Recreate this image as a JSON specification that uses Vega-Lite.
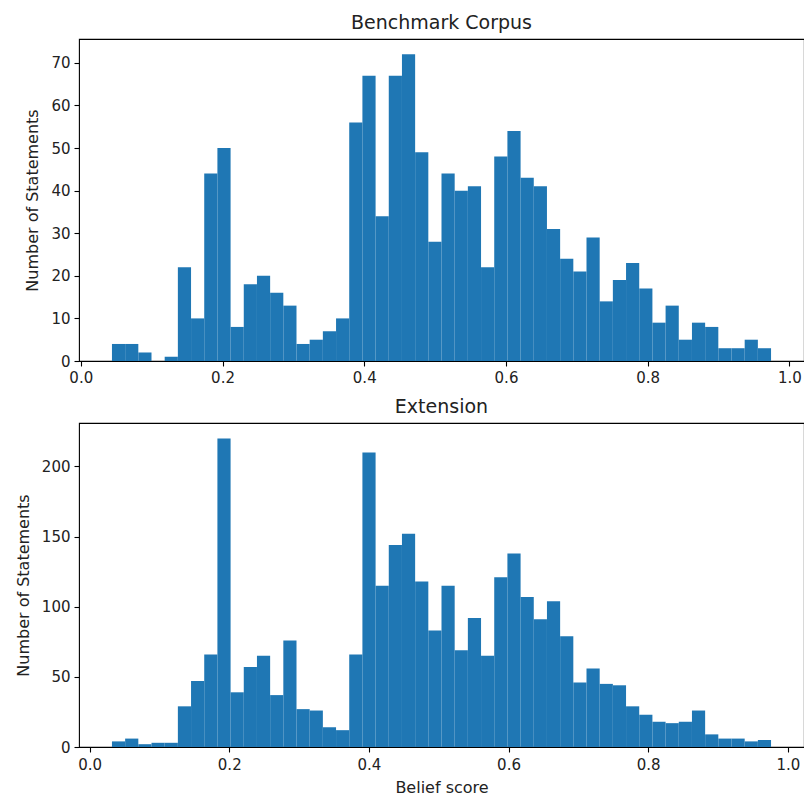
{
  "$schema": "https://vega.github.io/schema/vega-lite/v6.json",
  "padding": {"left": 14, "top": 13, "right": 1, "bottom": 0},
  "spacing": 11,
  "config": {
    "font": "DejaVu Sans",
    "view": {"stroke": "#000", "strokeWidth": 1.1},
    "axis": {
      "domain": false, "grid": false,
      "tickColor": "#000", "tickWidth": 1.1, "tickSize": 5,
      "labelFont": "DejaVu Sans", "labelFontSize": 15, "labelColor": "#222", "labelPadding": 4,
      "titleFont": "DejaVu Sans", "titleFontSize": 16, "titleFontWeight": "normal", "titleColor": "#222"
    },
    "title": {"font": "DejaVu Sans", "fontSize": 19, "fontWeight": "normal", "color": "#222", "anchor": "middle", "offset": 6}
  },
  "datasets": {
    "benchmark": [
      {"lo": 0.044, "hi": 0.0626, "n": 4}, {"lo": 0.0626, "hi": 0.0812, "n": 4}, {"lo": 0.0812, "hi": 0.0998, "n": 2},
      {"lo": 0.0998, "hi": 0.1184, "n": 0}, {"lo": 0.1184, "hi": 0.137, "n": 1}, {"lo": 0.137, "hi": 0.1556, "n": 22},
      {"lo": 0.1556, "hi": 0.1742, "n": 10}, {"lo": 0.1742, "hi": 0.1928, "n": 44}, {"lo": 0.1928, "hi": 0.2114, "n": 50},
      {"lo": 0.2114, "hi": 0.23, "n": 8}, {"lo": 0.23, "hi": 0.2486, "n": 18}, {"lo": 0.2486, "hi": 0.2672, "n": 20},
      {"lo": 0.2672, "hi": 0.2858, "n": 16}, {"lo": 0.2858, "hi": 0.3044, "n": 13}, {"lo": 0.3044, "hi": 0.323, "n": 4},
      {"lo": 0.323, "hi": 0.3416, "n": 5}, {"lo": 0.3416, "hi": 0.3602, "n": 7}, {"lo": 0.3602, "hi": 0.3788, "n": 10},
      {"lo": 0.3788, "hi": 0.3974, "n": 56}, {"lo": 0.3974, "hi": 0.416, "n": 67}, {"lo": 0.416, "hi": 0.4346, "n": 34},
      {"lo": 0.4346, "hi": 0.4532, "n": 67}, {"lo": 0.4532, "hi": 0.4718, "n": 72}, {"lo": 0.4718, "hi": 0.4904, "n": 49},
      {"lo": 0.4904, "hi": 0.509, "n": 28}, {"lo": 0.509, "hi": 0.5276, "n": 44}, {"lo": 0.5276, "hi": 0.5462, "n": 40},
      {"lo": 0.5462, "hi": 0.5648, "n": 41}, {"lo": 0.5648, "hi": 0.5834, "n": 22}, {"lo": 0.5834, "hi": 0.602, "n": 48},
      {"lo": 0.602, "hi": 0.6206, "n": 54}, {"lo": 0.6206, "hi": 0.6392, "n": 43}, {"lo": 0.6392, "hi": 0.6578, "n": 41},
      {"lo": 0.6578, "hi": 0.6764, "n": 31}, {"lo": 0.6764, "hi": 0.695, "n": 24}, {"lo": 0.695, "hi": 0.7136, "n": 21},
      {"lo": 0.7136, "hi": 0.7322, "n": 29}, {"lo": 0.7322, "hi": 0.7508, "n": 14}, {"lo": 0.7508, "hi": 0.7694, "n": 19},
      {"lo": 0.7694, "hi": 0.788, "n": 23}, {"lo": 0.788, "hi": 0.8066, "n": 17}, {"lo": 0.8066, "hi": 0.8252, "n": 9},
      {"lo": 0.8252, "hi": 0.8438, "n": 13}, {"lo": 0.8438, "hi": 0.8624, "n": 5}, {"lo": 0.8624, "hi": 0.881, "n": 9},
      {"lo": 0.881, "hi": 0.8996, "n": 8}, {"lo": 0.8996, "hi": 0.9182, "n": 3}, {"lo": 0.9182, "hi": 0.9368, "n": 3},
      {"lo": 0.9368, "hi": 0.9554, "n": 5}, {"lo": 0.9554, "hi": 0.974, "n": 3}
    ],
    "extension": [
      {"lo": 0.032, "hi": 0.05088, "n": 4}, {"lo": 0.05088, "hi": 0.06976, "n": 6}, {"lo": 0.06976, "hi": 0.08864, "n": 2},
      {"lo": 0.08864, "hi": 0.10752, "n": 3}, {"lo": 0.10752, "hi": 0.1264, "n": 3}, {"lo": 0.1264, "hi": 0.14528, "n": 29},
      {"lo": 0.14528, "hi": 0.16416, "n": 47}, {"lo": 0.16416, "hi": 0.18304, "n": 66}, {"lo": 0.18304, "hi": 0.20192, "n": 220},
      {"lo": 0.20192, "hi": 0.2208, "n": 39}, {"lo": 0.2208, "hi": 0.23968, "n": 57}, {"lo": 0.23968, "hi": 0.25856, "n": 65},
      {"lo": 0.25856, "hi": 0.27744, "n": 37}, {"lo": 0.27744, "hi": 0.29632, "n": 76}, {"lo": 0.29632, "hi": 0.3152, "n": 27},
      {"lo": 0.3152, "hi": 0.33408, "n": 26}, {"lo": 0.33408, "hi": 0.35296, "n": 14}, {"lo": 0.35296, "hi": 0.37184, "n": 12},
      {"lo": 0.37184, "hi": 0.39072, "n": 66}, {"lo": 0.39072, "hi": 0.4096, "n": 210}, {"lo": 0.4096, "hi": 0.42848, "n": 115},
      {"lo": 0.42848, "hi": 0.44736, "n": 144}, {"lo": 0.44736, "hi": 0.46624, "n": 152}, {"lo": 0.46624, "hi": 0.48512, "n": 118},
      {"lo": 0.48512, "hi": 0.504, "n": 83}, {"lo": 0.504, "hi": 0.52288, "n": 115}, {"lo": 0.52288, "hi": 0.54176, "n": 69},
      {"lo": 0.54176, "hi": 0.56064, "n": 92}, {"lo": 0.56064, "hi": 0.57952, "n": 65}, {"lo": 0.57952, "hi": 0.5984, "n": 121},
      {"lo": 0.5984, "hi": 0.61728, "n": 138}, {"lo": 0.61728, "hi": 0.63616, "n": 107}, {"lo": 0.63616, "hi": 0.65504, "n": 91},
      {"lo": 0.65504, "hi": 0.67392, "n": 104}, {"lo": 0.67392, "hi": 0.6928, "n": 79}, {"lo": 0.6928, "hi": 0.71168, "n": 46},
      {"lo": 0.71168, "hi": 0.73056, "n": 56}, {"lo": 0.73056, "hi": 0.74944, "n": 45}, {"lo": 0.74944, "hi": 0.76832, "n": 44},
      {"lo": 0.76832, "hi": 0.7872, "n": 29}, {"lo": 0.7872, "hi": 0.80608, "n": 23}, {"lo": 0.80608, "hi": 0.82496, "n": 18},
      {"lo": 0.82496, "hi": 0.84384, "n": 17}, {"lo": 0.84384, "hi": 0.86272, "n": 18}, {"lo": 0.86272, "hi": 0.8816, "n": 26},
      {"lo": 0.8816, "hi": 0.90048, "n": 9}, {"lo": 0.90048, "hi": 0.91936, "n": 6}, {"lo": 0.91936, "hi": 0.93824, "n": 6},
      {"lo": 0.93824, "hi": 0.95712, "n": 4}, {"lo": 0.95712, "hi": 0.976, "n": 5}
    ]
  },
  "vconcat": [
    {
      "title": {"text": "Benchmark Corpus"},
      "width": 725,
      "height": 322,
      "data": {"name": "benchmark"},
      "mark": {"type": "bar", "color": "#1f77b4", "strokeWidth": 0},
      "encoding": {
        "x": {"field": "lo", "type": "quantitative",
              "scale": {"domain": [-0.0025, 1.0205], "nice": false, "zero": false},
              "axis": {"values": [0, 0.2, 0.4, 0.6, 0.8, 1.0], "format": ".1f", "title": null}},
        "x2": {"field": "hi"},
        "y": {"field": "n", "type": "quantitative",
              "scale": {"domain": [0, 75.6], "nice": false},
              "axis": {"values": [0, 10, 20, 30, 40, 50, 60, 70], "title": "Number of Statements", "titlePadding": 10}},
        "y2": {"datum": 0}
      }
    },
    {
      "title": {"text": "Extension"},
      "width": 725,
      "height": 324,
      "data": {"name": "extension"},
      "mark": {"type": "bar", "color": "#1f77b4", "strokeWidth": 0},
      "encoding": {
        "x": {"field": "lo", "type": "quantitative",
              "scale": {"domain": [-0.0152, 1.0232], "nice": false, "zero": false},
              "axis": {"values": [0, 0.2, 0.4, 0.6, 0.8, 1.0], "format": ".1f", "title": "Belief score", "titlePadding": 7, "labelPadding": 5}},
        "x2": {"field": "hi"},
        "y": {"field": "n", "type": "quantitative",
              "scale": {"domain": [0, 231], "nice": false},
              "axis": {"values": [0, 50, 100, 150, 200], "title": "Number of Statements", "titlePadding": 10}},
        "y2": {"datum": 0}
      }
    }
  ]
}
